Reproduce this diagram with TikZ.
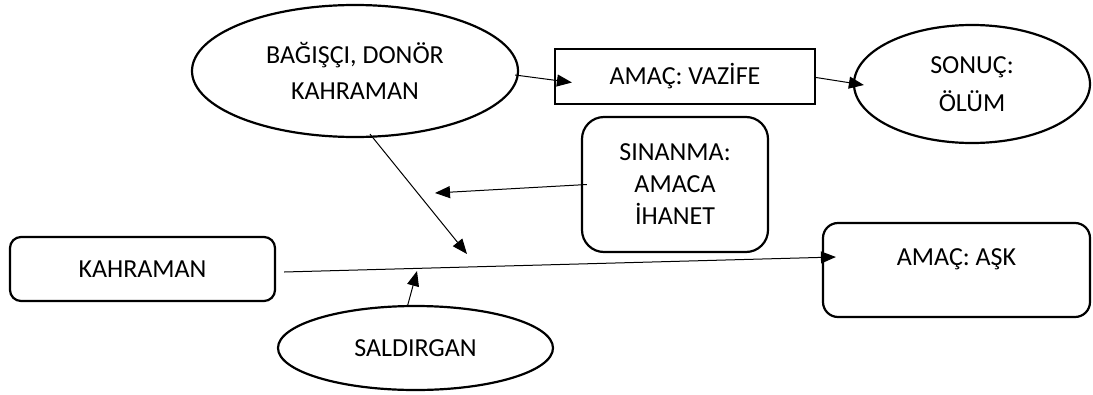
\documentclass[tikz,border=0pt]{standalone}
\usepackage{fontspec}
\setmainfont{Carlito}
\usetikzlibrary{shapes.geometric,arrows.meta,calc}
\tikzset{
  lbl/.style={font=\fontsize{26}{32}\selectfont, align=center, text=black},
  shapeline/.style={draw=black, line width=2.2pt, inner sep=0pt},
  ell/.style={shapeline, ellipse},
  box/.style={shapeline, rectangle},
  conn/.style={draw=black, line width=1pt, -{Triangle[length=15pt,width=12pt]}},
}
\begin{document}
\begin{tikzpicture}[x=1pt,y=-1pt]
\useasboundingbox (0,0) rectangle (1093,394);
% nodes
\node[ell, lbl, minimum width=326pt, minimum height=132pt] (don) at (355,71)
  {BAĞIŞÇI, DONÖR\\[4pt]KAHRAMAN};
\node[box, lbl, minimum width=260pt, minimum height=55pt] (vaz) at (685,76.5)
  {AMAÇ: VAZİFE};
\node[ell, lbl, minimum width=236pt, minimum height=118pt] (son) at (972,84)
  {SONUÇ:\\[6pt]ÖLÜM};
\node[box, lbl, rounded corners=22pt, minimum width=186pt, minimum height=135pt] (sin) at (675,184.5)
  {SINANMA:\\AMACA\\İHANET};
\node[box, lbl, rounded corners=11pt, minimum width=265pt, minimum height=64pt] (kah) at (142.5,269)
  {KAHRAMAN};
\node[box, rounded corners=15pt, minimum width=267pt, minimum height=94pt] (ask) at (956.5,270) {};
\node[lbl] (asktxt) at (956.5,259) {AMAÇ: AŞK};
\node[ell, lbl, minimum width=275pt, minimum height=84pt] (sal) at (415.5,348)
  {SALDIRGAN};
% free ends
\coordinate (p1) at (435,193);
\coordinate (p2) at (467,254);
\coordinate (p3) at (417,271);
% connectors
\draw[conn] ($(don.east)+(-4,4)$) -- ($(vaz.west)+(18,6)$);
\draw[conn] ($(vaz.east)+(0,1)$) -- ($(son.west)+(11,1)$);
\draw[conn] ($(sin.west)+(6,0)$) -- (p1);
\draw[conn] ($(don.south)+(15,-4)$) -- (p2);
\draw[conn] ($(kah.east)+(8,3)$) -- ($(ask.west)+(14,-13)$);
\draw[conn] ($(sal.north)+(-8,1)$) -- (p3);
\end{tikzpicture}
\end{document}
